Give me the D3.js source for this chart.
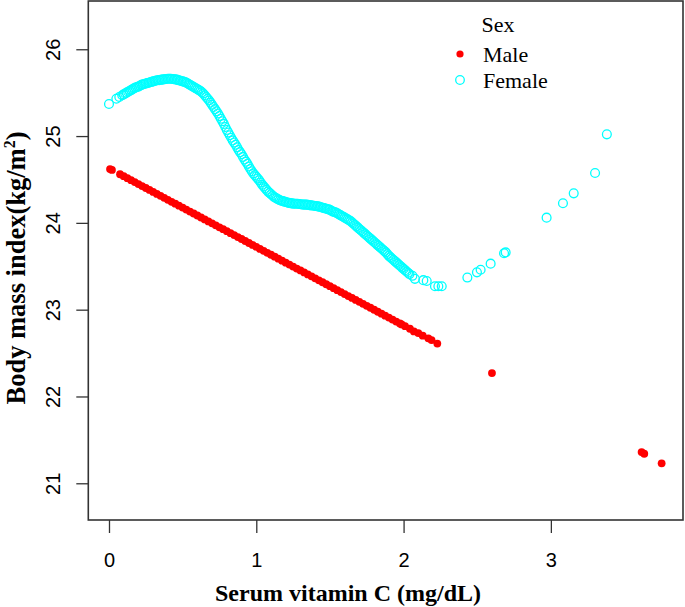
<!DOCTYPE html>
<html>
<head>
<meta charset="utf-8">
<script src="https://cdn.jsdelivr.net/npm/d3@7"></script>
<style>
html,body{margin:0;padding:0;background:#fff;}
svg{display:block;}
</style>
</head>
<body>
<svg id="chart" width="685" height="607"></svg>
<script>
// ---------------- data ----------------
const xTicks = [0, 1, 2, 3];
const yTicks = [21, 22, 23, 24, 25, 26];
const seriesNames = ["Male", "Female"];
const legendTitle = "Sex";
const xLabel = "Serum vitamin C (mg/dL)";
const yLabelMain = "Body mass index(kg/m";
const yLabelSup = "2";

const maleX = [0.007,0.02,0.075,0.100,0.125,0.150,0.175,0.200,0.225,0.250,0.275,0.300,0.325,0.350,0.375,0.400,0.425,0.450,0.475,0.500,0.525,0.550,0.575,0.600,0.625,0.650,0.675,0.700,0.725,0.750,0.775,0.800,0.825,0.850,0.875,0.900,0.925,0.950,0.975,1.000,1.025,1.050,1.075,1.100,1.125,1.150,1.175,1.200,1.225,1.250,1.275,1.300,1.325,1.350,1.375,1.400,1.425,1.450,1.475,1.500,1.525,1.550,1.575,1.600,1.625,1.650,1.675,1.700,1.725,1.750,1.775,1.800,1.825,1.850,1.875,1.900,1.925,1.950,1.975,1.987,2.010,2.043,2.070,2.100,2.130,2.168,2.190,2.229,2.600,3.616,3.634,3.752];
const maleY = [24.62,24.61,24.560,24.538,24.515,24.492,24.470,24.447,24.424,24.402,24.379,24.357,24.334,24.311,24.289,24.266,24.243,24.221,24.198,24.176,24.153,24.130,24.108,24.085,24.062,24.040,24.017,23.995,23.972,23.949,23.927,23.904,23.881,23.859,23.836,23.814,23.791,23.768,23.746,23.723,23.700,23.678,23.655,23.633,23.610,23.587,23.565,23.542,23.519,23.497,23.474,23.452,23.429,23.406,23.384,23.361,23.338,23.316,23.293,23.271,23.248,23.225,23.203,23.180,23.157,23.135,23.112,23.090,23.067,23.044,23.022,22.999,22.976,22.954,22.931,22.909,22.886,22.863,22.841,22.83,22.81,22.78,22.75,22.73,22.70,22.67,22.65,22.61,22.27,21.36,21.34,21.23];

const femaleX = [0.00,0.05,0.07,0.09,
0.10,0.11,0.12,0.13,0.14,0.15,0.16,0.17,0.18,0.19,
0.20,0.21,0.22,0.23,0.24,0.25,0.26,0.27,0.28,0.29,
0.30,0.31,0.32,0.33,0.34,0.35,0.36,0.37,0.38,0.39,
0.40,0.41,0.42,0.43,0.44,0.45,0.46,0.47,0.48,0.49,
0.50,0.51,0.52,0.53,0.54,0.55,0.56,0.57,0.58,0.59,
0.60,0.61,0.62,0.63,0.64,0.65,0.66,0.67,0.68,0.69,
0.70,0.71,0.72,0.73,0.74,0.75,0.76,0.77,0.78,0.79,
0.80,0.81,0.82,0.83,0.84,0.85,0.86,0.87,0.88,0.89,
0.90,0.91,0.92,0.93,0.94,0.95,0.96,0.97,0.98,0.99,
1.00,1.01,1.02,1.03,1.04,1.05,1.06,1.07,1.08,1.09,
1.10,1.11,1.12,1.13,1.14,1.15,1.16,1.17,1.18,1.19,
1.20,1.21,1.22,1.23,1.24,1.25,1.26,1.27,1.28,1.29,
1.30,1.31,1.32,1.33,1.34,1.35,1.36,1.37,1.38,1.39,
1.40,1.41,1.42,1.43,1.44,1.45,1.46,1.47,1.48,1.49,
1.50,1.51,1.52,1.53,1.54,1.55,1.56,1.57,1.58,1.59,
1.60,1.61,1.62,1.63,1.64,1.65,1.66,1.67,1.68,1.69,
1.70,1.71,1.72,1.73,1.74,1.75,1.76,1.77,1.78,1.79,
1.80,1.81,1.82,1.83,1.84,1.85,1.86,1.87,1.88,1.89,
1.90,1.91,1.92,1.93,1.94,1.95,1.96,1.97,1.98,1.99,
2.00,2.01,2.02,2.03,2.04,2.06,
2.077,2.134,2.157,2.213,2.236,2.259,
2.433,2.498,2.523,2.591,2.682,2.693,2.971,3.082,3.155,3.300,3.380];
const femaleY = [25.37,25.43,25.45,25.47,
25.48,25.49,25.50,25.51,25.52,25.53,25.54,25.55,25.56,25.565,
25.57,25.58,25.59,25.595,25.60,25.605,25.61,25.615,25.62,25.625,
25.63,25.635,25.64,25.643,25.645,25.648,25.65,25.653,25.655,25.658,
25.66,25.66,25.66,25.658,25.655,25.653,25.65,25.645,25.64,25.635,
25.63,25.625,25.62,25.61,25.60,25.59,25.58,25.57,25.56,25.55,
25.54,25.53,25.52,25.505,25.49,25.47,25.45,25.43,25.41,25.385,
25.36,25.335,25.31,25.285,25.26,25.23,25.20,25.17,25.14,25.105,
25.07,25.04,25.01,24.98,24.95,24.925,24.90,24.87,24.84,24.815,
24.79,24.76,24.73,24.705,24.68,24.65,24.62,24.595,24.57,24.55,
24.53,24.51,24.49,24.465,24.44,24.42,24.40,24.38,24.36,24.345,
24.33,24.315,24.30,24.29,24.28,24.27,24.26,24.255,24.25,24.245,
24.24,24.235,24.23,24.228,24.225,24.222,24.22,24.22,24.22,24.218,
24.215,24.212,24.21,24.21,24.21,24.208,24.205,24.202,24.20,24.198,
24.195,24.192,24.19,24.185,24.18,24.175,24.17,24.165,24.16,24.155,
24.15,24.14,24.13,24.125,24.12,24.11,24.10,24.09,24.08,24.07,
24.06,24.05,24.04,24.03,24.02,24.005,23.99,23.975,23.96,23.945,
23.93,23.915,23.90,23.885,23.87,23.855,23.84,23.825,23.81,23.795,
23.78,23.765,23.75,23.735,23.72,23.705,23.69,23.675,23.66,23.64,
23.62,23.605,23.59,23.575,23.56,23.545,23.53,23.515,23.50,23.485,
23.47,23.455,23.44,23.425,23.41,23.39,
23.355,23.34,23.33,23.27,23.27,23.27,
23.37,23.43,23.46,23.53,23.65,23.66,24.06,24.226,24.34,24.575,25.02];

const colors = {Male: "#FF0000", Female: "#00FFFF"};

// ---------------- layout ----------------
const W = 685, H = 607;
const plot = {left: 88.3, top: 1, right: 683, bottom: 520};

const x = d3.scaleLinear().domain([-0.1405, 3.897]).range([plot.left, plot.right]);
const y = d3.scaleLinear().domain([20.577, 26.556]).range([plot.bottom, plot.top]);

const svg = d3.select("#chart");

const male = maleX.map((v, i) => ({x: v, y: maleY[i]}));
const female = femaleX.map((v, i) => ({x: v, y: femaleY[i]}));

// points
svg.append("g").selectAll("circle").data(male).join("circle")
  .attr("cx", d => x(d.x)).attr("cy", d => y(d.y)).attr("r", 3.9)
  .attr("fill", colors.Male);

svg.append("g").selectAll("circle").data(female).join("circle")
  .attr("cx", d => x(d.x)).attr("cy", d => y(d.y)).attr("r", 4.4)
  .attr("fill", "none").attr("stroke", colors.Female).attr("stroke-width", 1.3);

// box
svg.append("rect")
  .attr("x", plot.left).attr("y", plot.top)
  .attr("width", plot.right - plot.left).attr("height", plot.bottom - plot.top)
  .attr("fill", "none").attr("stroke", "#333").attr("stroke-width", 1.6);

// x axis
const gx = svg.append("g").attr("transform", `translate(0,${plot.bottom})`)
  .call(d3.axisBottom(x).tickValues(xTicks).tickSize(13).tickFormat(d3.format("d")));
gx.select(".domain").remove();
gx.selectAll(".tick line").attr("stroke", "#333").attr("stroke-width", 1.3);
gx.selectAll(".tick text")
  .attr("y", 46.5).attr("dy", null)
  .attr("font-family", "'Liberation Sans', Arial, sans-serif")
  .attr("font-size", 20).attr("fill", "#000");

// y axis
const gy = svg.append("g").attr("transform", `translate(${plot.left},0)`)
  .call(d3.axisLeft(y).tickValues(yTicks).tickSize(12).tickFormat(d3.format("d")));
gy.select(".domain").remove();
gy.selectAll(".tick line").attr("stroke", "#333").attr("stroke-width", 1.3);
gy.selectAll(".tick text")
  .attr("x", null).attr("dy", null)
  .attr("transform", "translate(-28,0) rotate(-90)")
  .attr("text-anchor", "middle")
  .attr("font-family", "'Liberation Sans', Arial, sans-serif")
  .attr("font-size", 20).attr("fill", "#000");

// axis titles
svg.append("text")
  .attr("x", 348).attr("y", 601)
  .attr("text-anchor", "middle")
  .attr("font-family", "'Liberation Serif', 'Times New Roman', serif")
  .attr("font-weight", "bold").attr("font-size", 24).attr("fill", "#000")
  .text(xLabel);

const yt = svg.append("text")
  .attr("transform", "translate(25,268) rotate(-90)")
  .attr("text-anchor", "middle")
  .attr("font-family", "'Liberation Serif', 'Times New Roman', serif")
  .attr("font-weight", "bold").attr("font-size", 26.5).attr("fill", "#000");
yt.append("tspan").text(yLabelMain);
yt.append("tspan").attr("font-size", 16).attr("dy", -10).text(yLabelSup);
yt.append("tspan").attr("dy", 10).text(")");

// legend
const lg = svg.append("g").attr("font-family", "'Liberation Serif', 'Times New Roman', serif")
  .attr("font-size", 22).attr("fill", "#000");
lg.append("text").attr("x", 481.5).attr("y", 31.5).text(legendTitle);
const legendRows = [
  {name: seriesNames[0], cy: 54, baseline: 62},
  {name: seriesNames[1], cy: 80, baseline: 87.5}
];
legendRows.forEach(r => {
  if (r.name === "Male") {
    lg.append("circle").attr("cx", 460).attr("cy", r.cy).attr("r", 3.6).attr("fill", colors.Male);
  } else {
    lg.append("circle").attr("cx", 460).attr("cy", r.cy).attr("r", 4.3)
      .attr("fill", "none").attr("stroke", colors.Female).attr("stroke-width", 1.3);
  }
  lg.append("text").attr("x", 483).attr("y", r.baseline).text(r.name);
});
</script>
</body>
</html>
